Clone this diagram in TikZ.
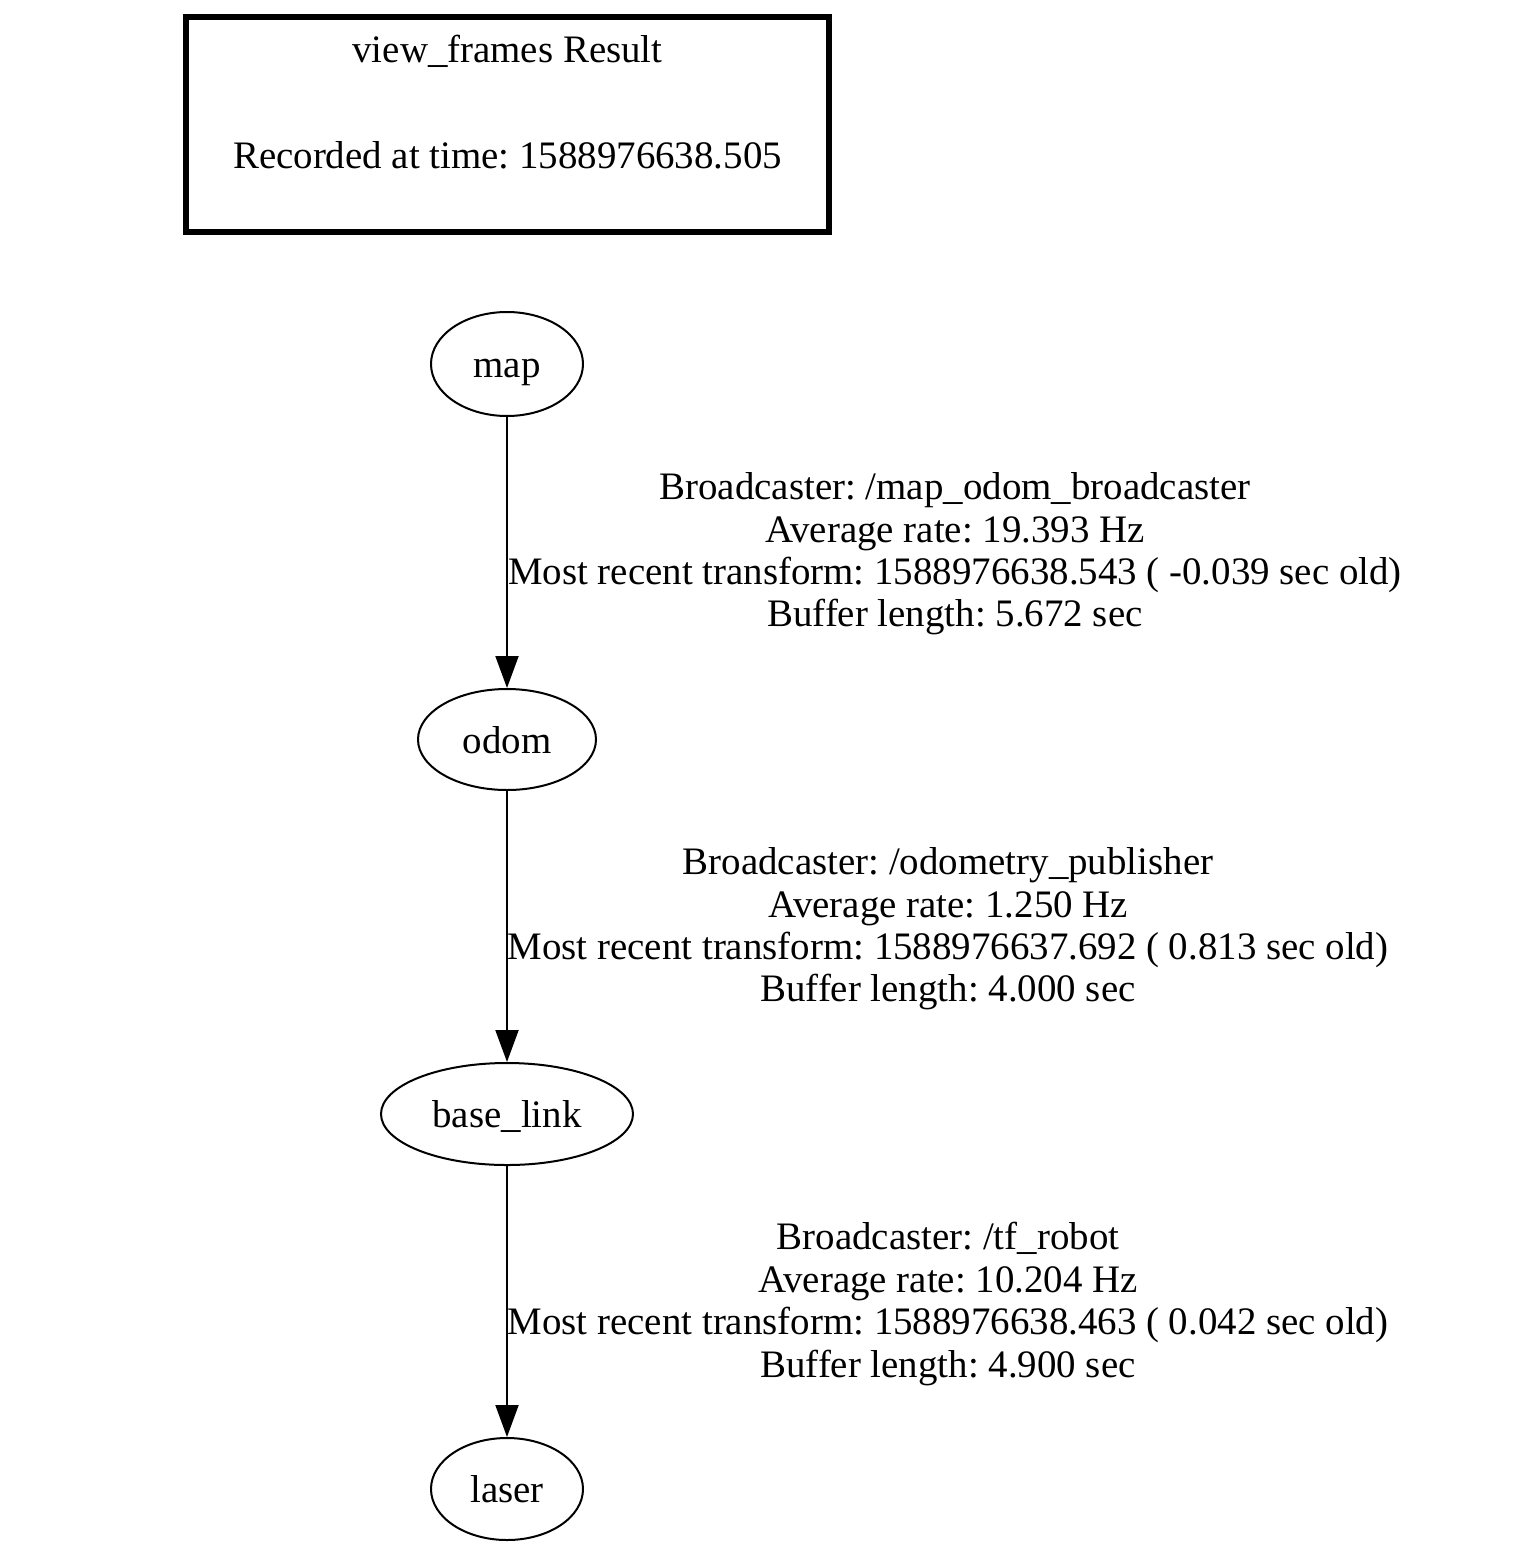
\documentclass[tikz,border=0pt]{standalone}
\usepackage{fontspec}
\setmainfont{Liberation Serif}
\usetikzlibrary{arrows.meta,shapes.geometric}
\frenchspacing
\begin{document}
\begin{tikzpicture}[x=0.5pt,y=-0.5pt,
  txt/.style={font=\fontsize{19.45}{21.2}\selectfont},
  frame/.style={draw, ellipse, line width=1pt, inner sep=0pt, txt,
    text height=18pt, text depth=4.2pt},
  edgelabel/.style={align=center, inner sep=0pt, txt},
  tfedge/.style={line width=1pt, -{Triangle[length=16pt,width=11.5pt]}},
  titlebox/.style={draw, line width=2.6pt, minimum width=321.5pt,
    minimum height=107.5pt, inner sep=0pt}]
\useasboundingbox (0,0) rectangle (1518,1546);

% header box
\node[titlebox] (title) at (507.5,124.5) {};
\node[txt, anchor=base] (titletext) at (507.5,63) {view\_frames Result};
\node[txt, anchor=base] (rectime) at (507.5,169) {Recorded at time: 1588976638.505};

% frames
\node[frame, minimum width=76pt, minimum height=52pt] (map) at (507,364) {map};
\node[frame, minimum width=89pt, minimum height=50.5pt] (odom) at (507,739.5) {odom};
\node[frame, minimum width=126pt, minimum height=51pt] (base) at (507,1114) {base\_link};
\node[frame, minimum width=76pt, minimum height=51pt] (laser) at (507,1489) {laser};

% transforms
\draw[tfedge] (map) -- (odom);
\draw[tfedge] (odom) -- (base);
\draw[tfedge] (base) -- (laser);

% transform details
\node[edgelabel] (l1) at (955,554) {Broadcaster: /map\_odom\_broadcaster\\Average rate: 19.393 Hz\\Most recent transform: 1588976638.543 ( -0.039 sec old)\\Buffer length: 5.672 sec};
\node[edgelabel] (l2) at (948,929) {Broadcaster: /odometry\_publisher\\Average rate: 1.250 Hz\\Most recent transform: 1588976637.692 ( 0.813 sec old)\\Buffer length: 4.000 sec};
\node[edgelabel] (l3) at (948,1304) {Broadcaster: /tf\_robot\\Average rate: 10.204 Hz\\Most recent transform: 1588976638.463 ( 0.042 sec old)\\Buffer length: 4.900 sec};
\end{tikzpicture}
\end{document}
